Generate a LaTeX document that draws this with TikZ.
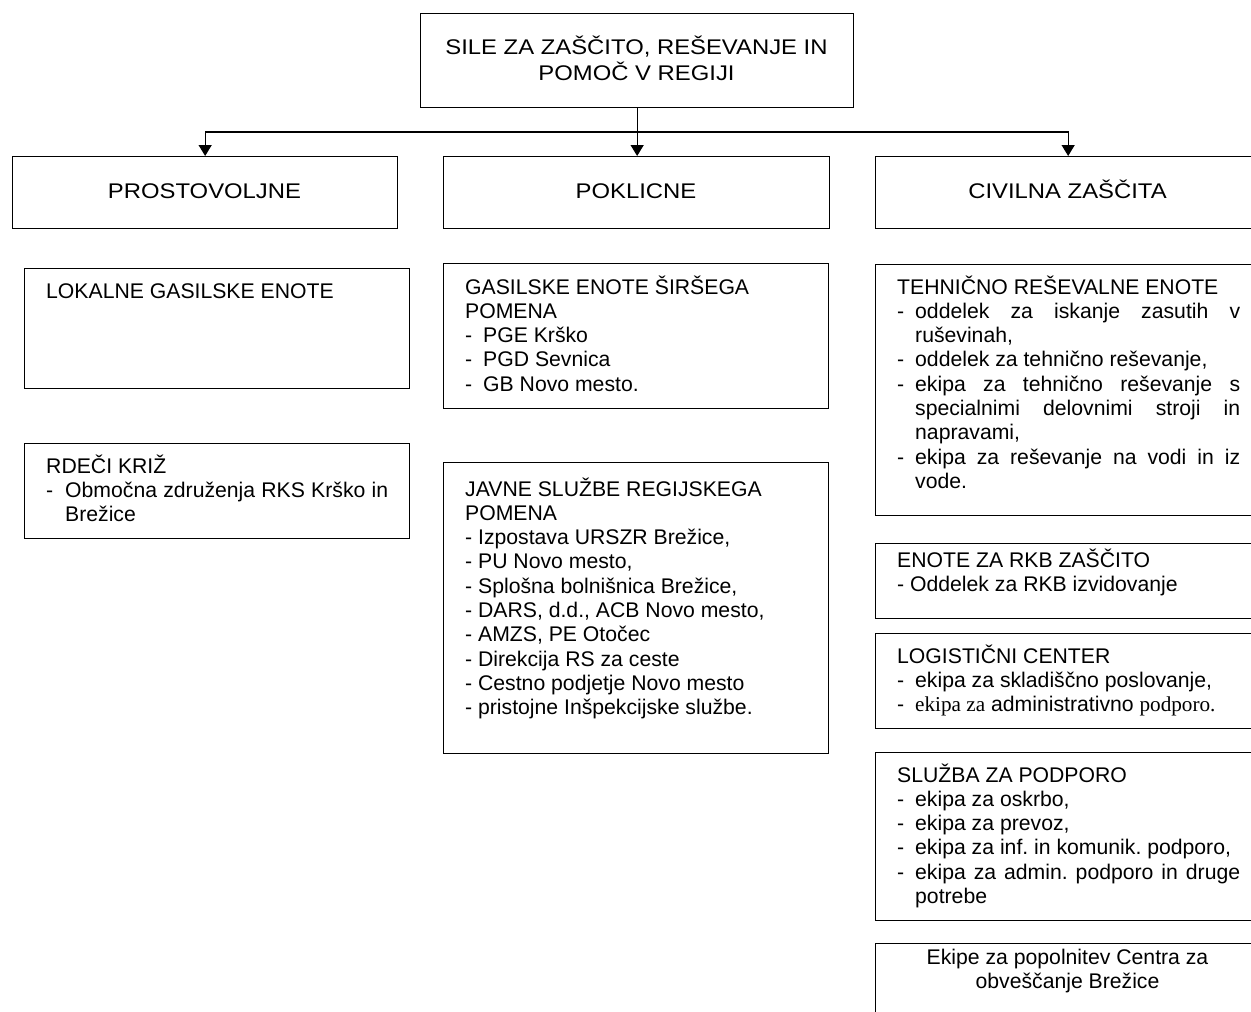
\documentclass[tikz,border=0pt]{standalone}
\usepackage{fontspec}
\setmainfont{Liberation Sans}
\newfontfamily\widefont{Liberation Sans}[FakeStretch=1.125]
\newfontfamily\serifwords{Liberation Serif}
\usetikzlibrary{arrows.meta}
\frenchspacing
\newcommand\dashitem[2][18pt]{\par\hangindent=#1\hangafter=1\noindent\makebox[#1][l]{-}#2\par}
\tikzset{
  box/.style={draw, line width=1.3pt, rectangle, inner sep=0pt, anchor=north west},
  txt/.style={inner sep=0pt, anchor=base west, font=\fontsize{21.2pt}{24.3pt}\selectfont},
  ctxt/.style={inner sep=0pt, anchor=base, font=\fontsize{21.2pt}{24.3pt}\selectfont},
  wtxt/.style={inner sep=0pt, anchor=base, font=\widefont\fontsize{21.2pt}{26pt}\selectfont},
  arr/.style={line width=1.3pt, -{Triangle[length=11pt,width=13pt]}},
}
\newcommand\jbox[2]{\parbox[t]{#1}{\frenchspacing\tolerance=10000\hyphenpenalty=10000\exhyphenpenalty=10000\hbadness=10000 #2}}
\newcommand\rbox[2]{\parbox[t]{#1}{\frenchspacing\raggedright #2}}
\newcommand\cbox[2]{\parbox[t]{#1}{\frenchspacing\centering #2}}
\begin{document}
\begin{tikzpicture}[x=1pt,y=-1pt]
\clip (0,0) rectangle (1251,1012);
\fill[white] (0,0) rectangle (1251,1012);

% boxes
\node[box, minimum width=433pt, minimum height=94pt]  (top) at (420,13) {};
\node[box, minimum width=385pt, minimum height=72pt]  (pro) at (12,156) {};
\node[box, minimum width=386pt, minimum height=72pt]  (pok) at (443,156) {};
\node[box, minimum width=385pt, minimum height=72pt]  (civ) at (875,156) {};

\node[box, minimum width=385pt, minimum height=120pt] (lok) at (24,268) {};
\node[box, minimum width=385pt, minimum height=95pt]  (rk)  at (24,443) {};

\node[box, minimum width=385pt, minimum height=145pt] (gas) at (443,263) {};
\node[box, minimum width=385pt, minimum height=291pt] (jav) at (443,462) {};

\node[box, minimum width=385pt, minimum height=251pt] (teh) at (875,264) {};
\node[box, minimum width=385pt, minimum height=75pt]  (rkb) at (875,543) {};
\node[box, minimum width=385pt, minimum height=95pt]  (log) at (875,633) {};
\node[box, minimum width=385pt, minimum height=168pt] (slu) at (875,752) {};
\node[box, minimum width=385pt, minimum height=110pt] (eki) at (875,943) {};

% connectors
\coordinate (bus) at (0,132);
\draw[arr] (top.south) -- (top.south |- pok.north);
\draw[arr] (top.south |- bus) -| (pro.north);
\draw[arr] (top.south |- bus) -| (civ.north);

% texts
\node[wtxt] (t-top) at (636.5,54) {\cbox{420pt}{SILE ZA ZAŠČITO, REŠEVANJE IN\\POMOČ V REGIJI}};
\node[wtxt] (t-pro) at (204.5,198.5) {PROSTOVOLJNE};
\node[wtxt] (t-pok) at (636,198.5) {POKLICNE};
\node[wtxt] (t-civ) at (1067.5,198.5) {CIVILNA ZAŠČITA};

\node[txt] (t-lok) at (46,298) {\rbox{342pt}{LOKALNE GASILSKE ENOTE}};
\node[txt] (t-rk) at (46,473) {\jbox{342pt}{RDEČI KRIŽ\par
  \dashitem[19pt]{Območna združenja RKS Krško in\linebreak Brežice}}};

\node[txt] (t-gas) at (465,294) {\rbox{341pt}{GASILSKE ENOTE ŠIRŠEGA\\POMENA\\
  \makebox[18pt][l]{-}PGE Krško\\
  \makebox[18pt][l]{-}PGD Sevnica\\
  \makebox[18pt][l]{-}GB Novo mesto.}};
\node[txt] (t-jav) at (465,496) {\rbox{341pt}{JAVNE SLUŽBE REGIJSKEGA\\POMENA\\
  - Izpostava URSZR Brežice,\\
  - PU Novo mesto,\\
  - Splošna bolnišnica Brežice,\\
  - DARS, d.d., ACB Novo mesto,\\
  - AMZS, PE Otočec\\
  - Direkcija RS za ceste\\
  - Cestno podjetje Novo mesto\\
  - pristojne Inšpekcijske službe.}};

\node[txt] (t-teh) at (897,294) {\jbox{343pt}{TEHNIČNO REŠEVALNE ENOTE\par
  \dashitem{oddelek za iskanje zasutih v\linebreak ruševinah,}
  \dashitem{oddelek za tehnično reševanje,}
  \dashitem{ekipa za tehnično reševanje s\linebreak specialnimi delovnimi stroji in\linebreak napravami,}
  \dashitem{ekipa za reševanje na vodi in iz\linebreak vode.}}};
\node[txt] (t-rkb) at (897,567) {\rbox{343pt}{ENOTE ZA RKB ZAŠČITO\\
  - Oddelek za RKB izvidovanje}};
\node[txt] (t-log) at (897,663) {\jbox{343pt}{LOGISTIČNI CENTER\par
  \dashitem{ekipa za skladiščno poslovanje,}
  \dashitem{{\serifwords ekipa za} administrativno {\serifwords podporo.}}}};
\node[txt] (t-slu) at (897,782) {\jbox{343pt}{SLUŽBA ZA PODPORO\par
  \dashitem{ekipa za oskrbo,}
  \dashitem{ekipa za prevoz,}
  \dashitem{ekipa za inf. in komunik. podporo,}
  \dashitem{ekipa za admin. podporo in druge\linebreak potrebe}}};
\node[ctxt] (t-eki) at (1067.5,964) {\cbox{360pt}{Ekipe za popolnitev Centra za\\obveščanje Brežice}};
\end{tikzpicture}
\end{document}
